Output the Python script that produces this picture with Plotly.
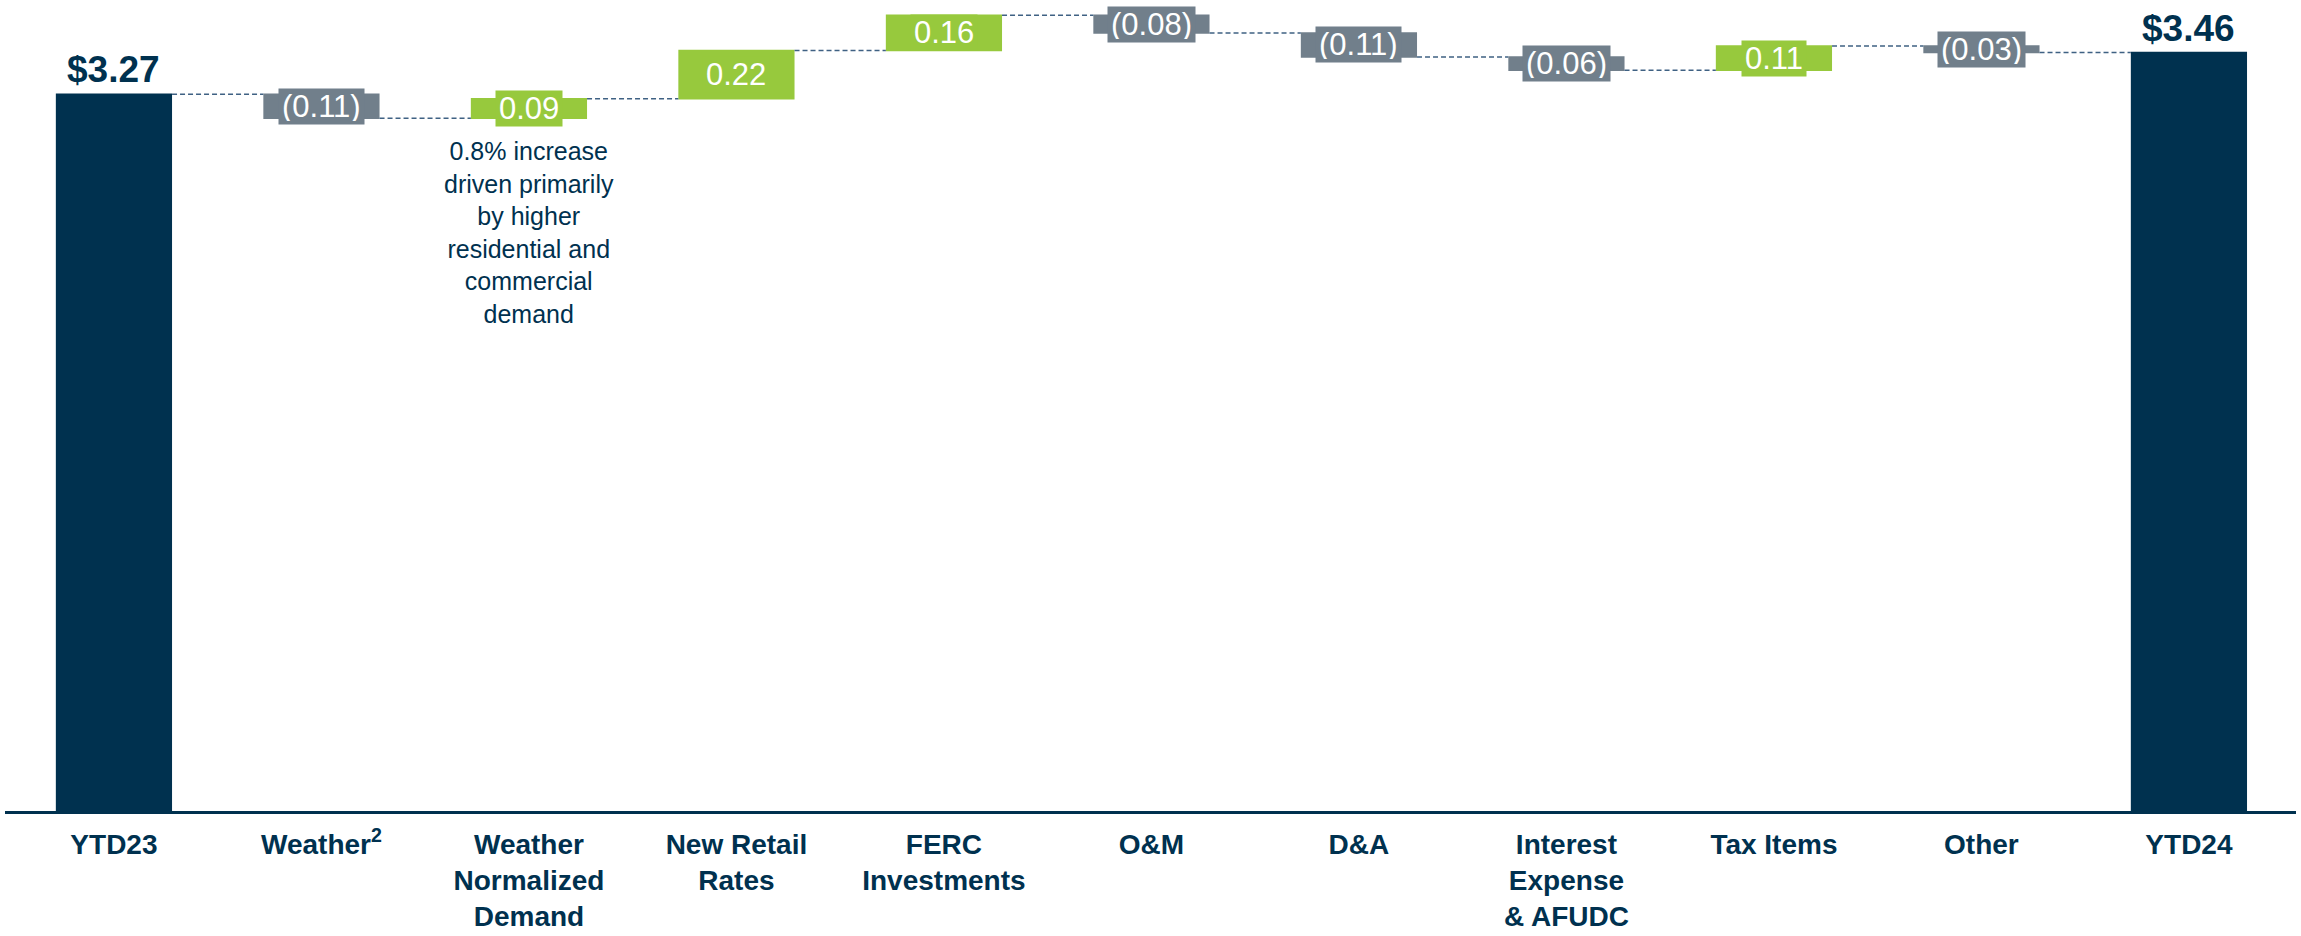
import plotly.graph_objects as go

categories = ["YTD23", "Weather<sup>2</sup>", "Weather<br>Normalized<br>Demand", "New Retail<br>Rates",
              "FERC<br>Investments", "O&M", "D&A", "Interest<br>Expense<br>& AFUDC", "Tax Items",
              "Other", "YTD24"]
start_value = 3.27
changes = [-0.11, 0.09, 0.22, 0.16, -0.08, -0.11, -0.06, 0.11, -0.03]
end_value = 3.46
note_text = "0.8% increase<br>driven primarily<br>by higher<br>residential and<br>commercial<br>demand"

NAVY = "#00314F"
GREEN = "#97C93D"
GRAY = "#717F8B"
FONT = "Liberation Sans, Arial, sans-serif"

n = len(categories)
xs = list(range(n))
measures = ["absolute"] + ["relative"] * len(changes) + ["total"]
values = [start_value] + changes + [0]

fig = go.Figure(go.Waterfall(
    x=xs, y=values, measure=measures,
    increasing=dict(marker=dict(color=GREEN)),
    decreasing=dict(marker=dict(color=GRAY)),
    totals=dict(marker=dict(color=NAVY)),
    connector=dict(mode="between", line=dict(color="#3f6183", width=1.5, dash="5px,3px")),
    hoverinfo="skip", textinfo="none",
))

annotations = []
cum = [start_value]
for c in changes:
    cum.append(round(cum[-1] + c, 4))

for i, c in enumerate(changes, start=1):
    mid = (cum[i - 1] + cum[i]) / 2
    txt = f"{c:.2f}" if c > 0 else f"({abs(c):.2f})"
    annotations.append(dict(
        x=xs[i], y=mid, xref="x", yref="y", text=txt, showarrow=False,
        font=dict(family=FONT, size=31, color="white"),
        bgcolor=GREEN if c > 0 else GRAY, borderpad=3, height=29,
        xanchor="center", yanchor="middle"))

annotations.append(dict(x=xs[0], y=start_value, xref="x", yref="y", text=f"${start_value:.2f}",
                        showarrow=False, yanchor="bottom", yshift=2,
                        font=dict(family=FONT, size=37, color=NAVY, weight="bold")))
annotations.append(dict(x=xs[-1], y=end_value, xref="x", yref="y", text=f"${end_value:.2f}",
                        showarrow=False, yanchor="bottom", yshift=2,
                        font=dict(family=FONT, size=37, color=NAVY, weight="bold")))
annotations.append(dict(x=xs[2], y=cum[1], xref="x", yref="y", text=note_text,
                        showarrow=False, yanchor="top", yshift=-17, align="center",
                        font=dict(family=FONT, size=25, color=NAVY)))

fig.update_layout(
    width=2301, height=936,
    margin=dict(l=5, r=5, t=0, b=125),
    paper_bgcolor="white", plot_bgcolor="white",
    showlegend=False,
    waterfallgap=0.44,
    annotations=annotations,
    xaxis=dict(tickmode="array", tickvals=xs, ticktext=categories,
               range=[-0.525, 10.516], showgrid=False, zeroline=False,
               showline=True, linecolor=NAVY, linewidth=3, automargin=False,
               ticks="", ticklabelstandoff=6,
               tickfont=dict(family=FONT, size=28, color=NAVY, weight="bold")),
    yaxis=dict(range=[0, 3.70], visible=False, showgrid=False, zeroline=False, automargin=False),
)

fig.write_html("out.html", config={"displayModeBar": False},
               post_script="document.body.style.margin='0';document.body.style.overflow='hidden';")
